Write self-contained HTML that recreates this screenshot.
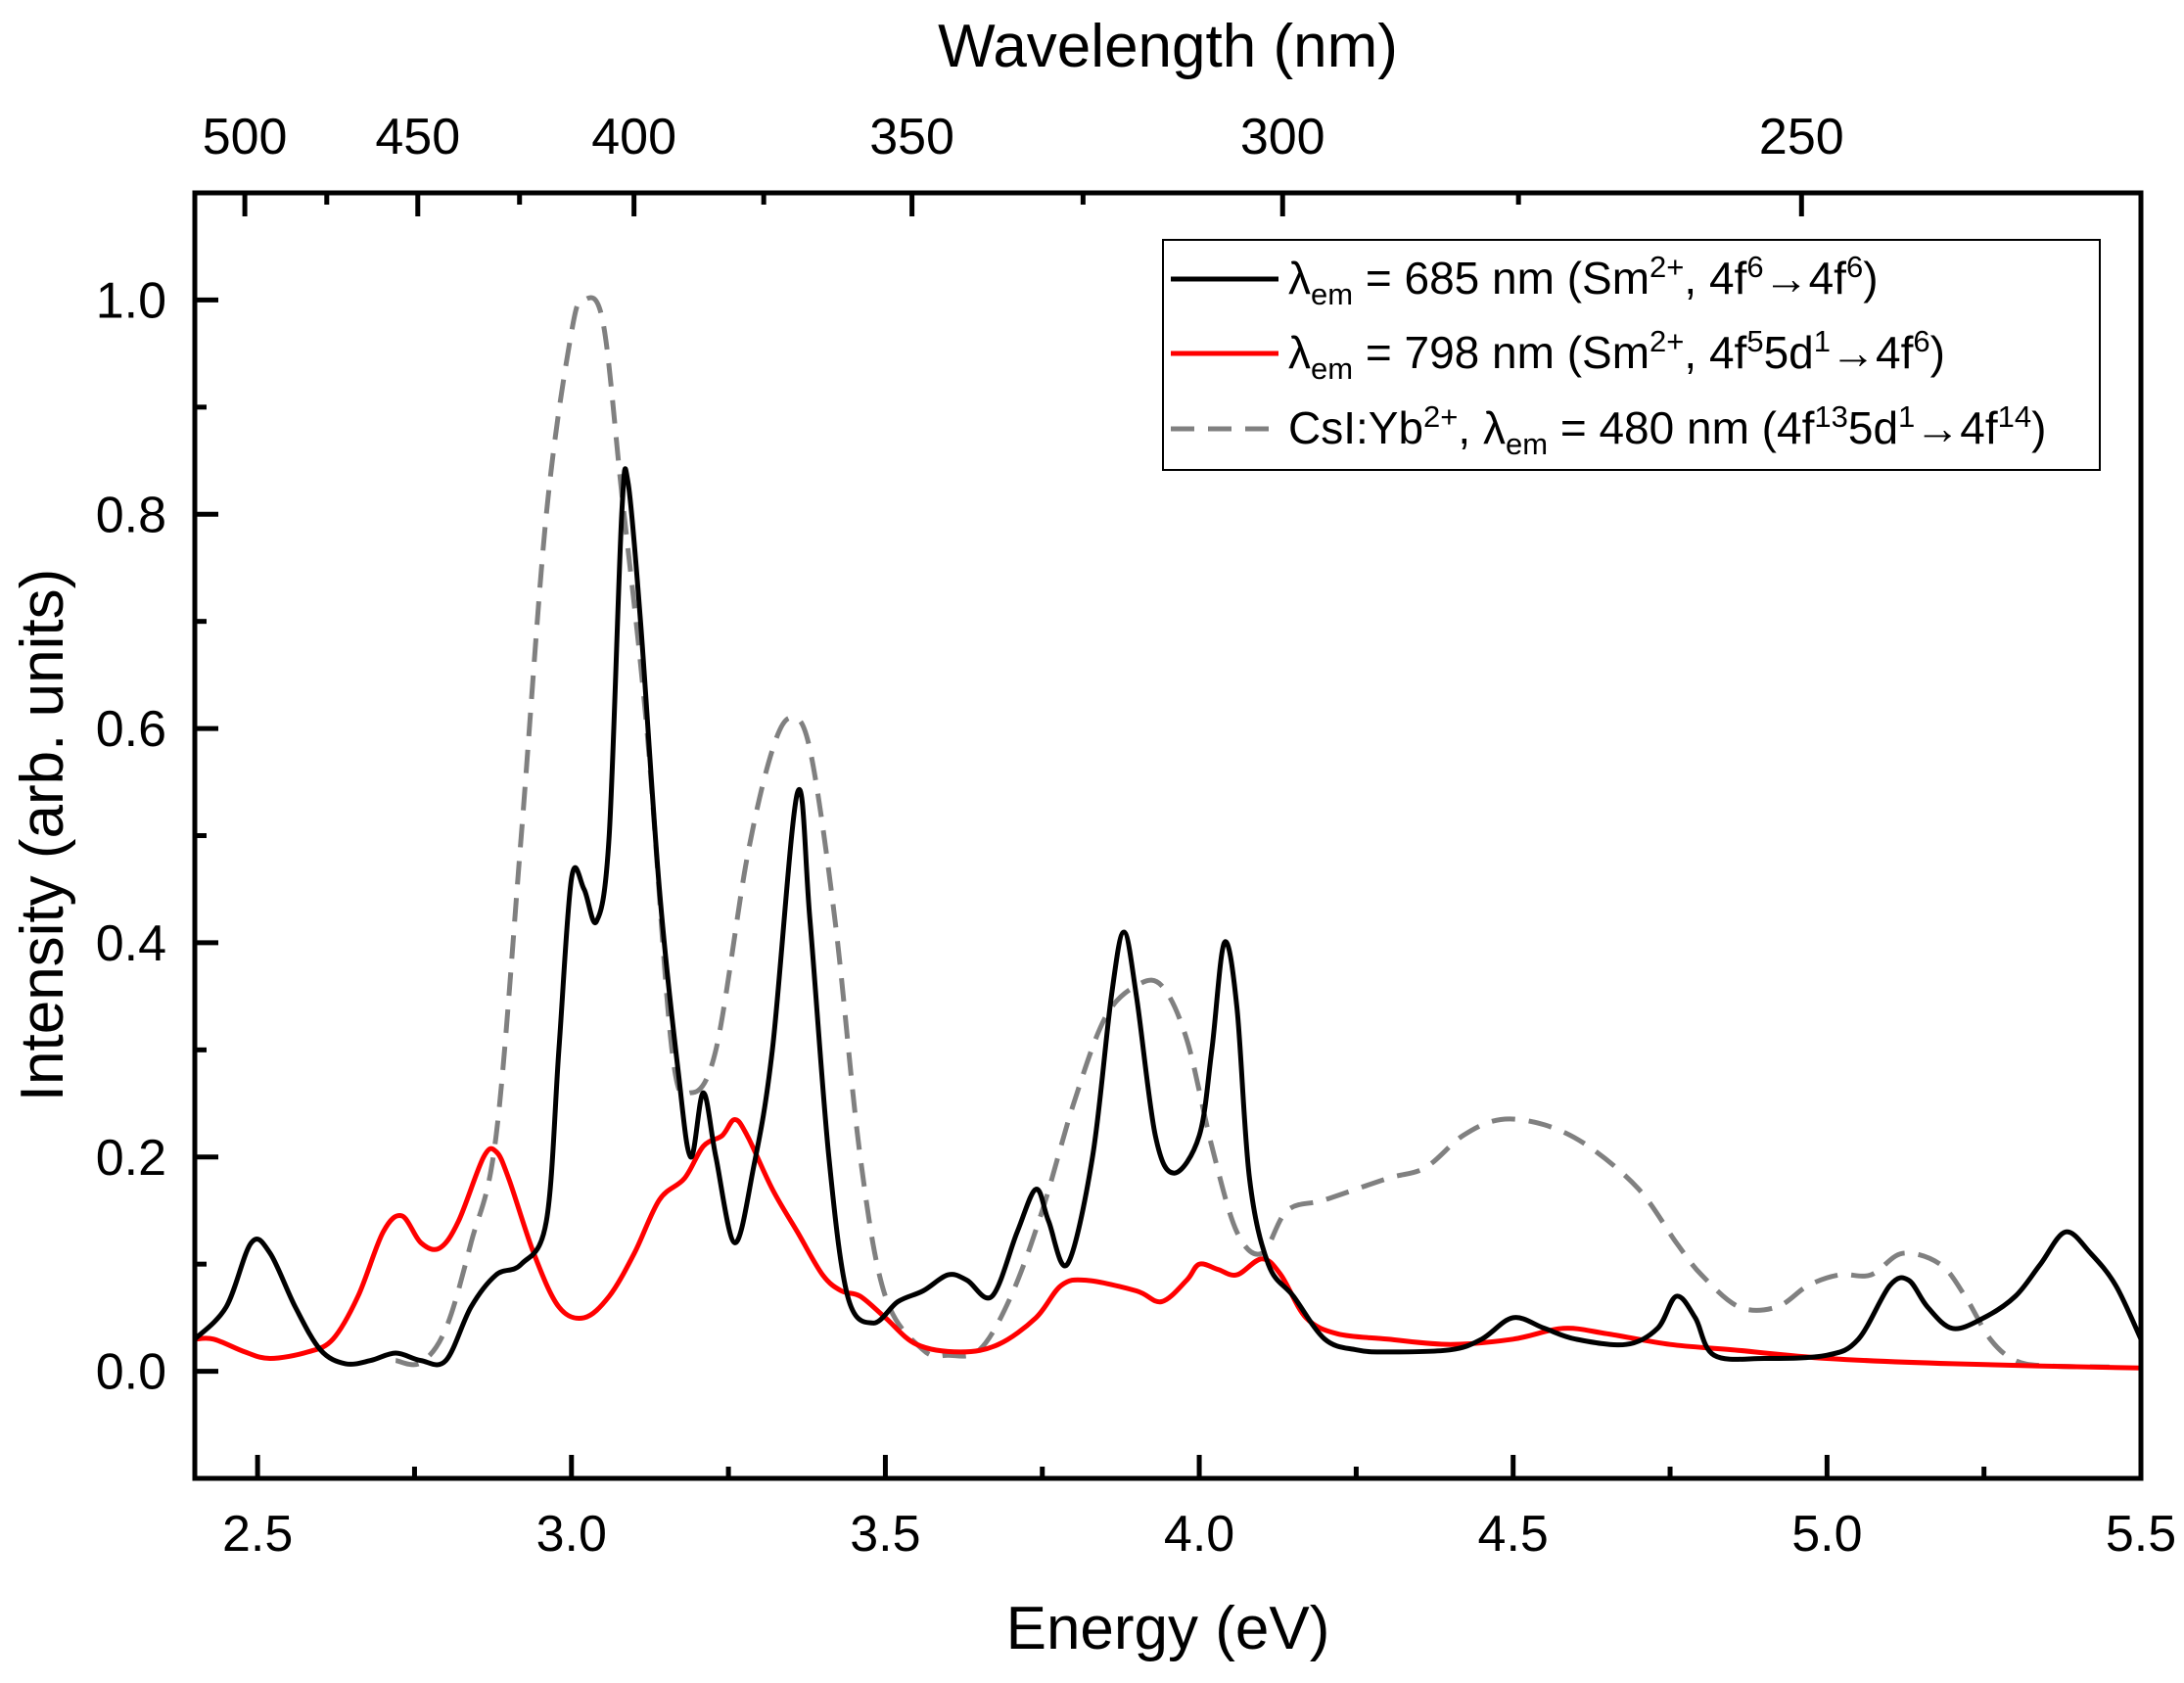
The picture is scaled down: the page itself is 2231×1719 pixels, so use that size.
<!DOCTYPE html>
<html><head><meta charset="utf-8"><style>
html,body{margin:0;padding:0;background:#fff;}
svg{display:block;font-family:"Liberation Sans",Arial,sans-serif;}
</style></head><body>
<svg id="chart" width="2231" height="1719" viewBox="0 0 2231 1719" xmlns="http://www.w3.org/2000/svg">
<g id="series"></g>
<g id="axes"></g>
<text x="1193" y="1684" font-size="62" text-anchor="middle">Energy (eV)</text>
<text x="1193" y="68" font-size="62" text-anchor="middle">Wavelength (nm)</text>
<text transform="translate(64,853) rotate(-90)" font-size="62" text-anchor="middle">Intensity (arb. units)</text>
<g>
<rect x="1188" y="245" width="957" height="235" fill="#fff" stroke="#000" stroke-width="2"/>
<line x1="1196" y1="285" x2="1306" y2="285" stroke="#000" stroke-width="5"/>
<text x="1316" y="300" font-size="46">λ<tspan font-size="31" dy="11">em</tspan><tspan dy="-11"> = 685 nm (Sm</tspan><tspan font-size="31" dy="-17">2+</tspan><tspan dy="17">, 4f</tspan><tspan font-size="31" dy="-17">6</tspan><tspan dy="17">→4f</tspan><tspan font-size="31" dy="-17">6</tspan><tspan dy="17">)</tspan></text>
<line x1="1196" y1="361" x2="1306" y2="361" stroke="#f00" stroke-width="5"/>
<text x="1316" y="376" font-size="46">λ<tspan font-size="31" dy="11">em</tspan><tspan dy="-11"> = 798 nm (Sm</tspan><tspan font-size="31" dy="-17">2+</tspan><tspan dy="17">, 4f</tspan><tspan font-size="31" dy="-17">5</tspan><tspan dy="17">5d</tspan><tspan font-size="31" dy="-17">1</tspan><tspan dy="17">→4f</tspan><tspan font-size="31" dy="-17">6</tspan><tspan dy="17">)</tspan></text>
<line x1="1196" y1="438" x2="1306" y2="438" stroke="#808080" stroke-width="5" stroke-dasharray="24,14"/>
<text x="1316" y="453" font-size="46">CsI:Yb<tspan font-size="31" dy="-17">2+</tspan><tspan dy="17">, λ</tspan><tspan font-size="31" dy="11">em</tspan><tspan dy="-11"> = 480 nm (4f</tspan><tspan font-size="31" dy="-17">13</tspan><tspan dy="17">5d</tspan><tspan font-size="31" dy="-17">1</tspan><tspan dy="17">→4f</tspan><tspan font-size="31" dy="-17">14</tspan><tspan dy="17">)</tspan></text>
</g>
</svg>
<script>
const blackE=[2.4,2.45,2.49,2.52,2.56,2.6,2.64,2.68,2.72,2.76,2.8,2.84,2.88,2.92,2.96,2.98,3.0,3.02,3.04,3.06,3.08,3.09,3.11,3.14,3.17,3.19,3.21,3.23,3.26,3.29,3.32,3.36,3.38,3.41,3.44,3.48,3.52,3.56,3.6,3.63,3.67,3.71,3.74,3.76,3.79,3.83,3.86,3.88,3.9,3.93,3.96,4.0,4.02,4.04,4.06,4.08,4.11,4.15,4.2,4.25,4.3,4.4,4.45,4.5,4.55,4.6,4.68,4.73,4.76,4.79,4.82,4.9,5.0,5.05,5.1,5.13,5.16,5.2,5.25,5.3,5.34,5.38,5.42,5.46,5.5];
const blackI=[0.03,0.06,0.12,0.11,0.06,0.02,0.007,0.01,0.017,0.01,0.01,0.06,0.09,0.1,0.14,0.3,0.46,0.45,0.42,0.5,0.8,0.83,0.7,0.45,0.28,0.2,0.26,0.2,0.12,0.19,0.3,0.54,0.42,0.2,0.07,0.045,0.065,0.075,0.09,0.085,0.07,0.13,0.17,0.14,0.1,0.2,0.35,0.41,0.35,0.22,0.185,0.22,0.3,0.4,0.34,0.18,0.1,0.07,0.03,0.02,0.018,0.02,0.03,0.05,0.04,0.03,0.025,0.04,0.07,0.05,0.015,0.012,0.015,0.03,0.08,0.085,0.06,0.04,0.05,0.07,0.1,0.13,0.11,0.08,0.03];
const redE=[2.4,2.43,2.48,2.52,2.58,2.62,2.66,2.7,2.73,2.76,2.79,2.82,2.86,2.88,2.9,2.94,2.98,3.02,3.06,3.1,3.14,3.18,3.21,3.24,3.26,3.28,3.32,3.36,3.4,3.43,3.46,3.5,3.55,3.62,3.68,3.74,3.78,3.82,3.9,3.94,3.98,4.0,4.03,4.06,4.1,4.13,4.17,4.22,4.3,4.4,4.5,4.58,4.65,4.75,4.85,5.0,5.2,5.5];
const redI=[0.03,0.03,0.018,0.012,0.018,0.03,0.07,0.13,0.145,0.12,0.115,0.14,0.2,0.205,0.18,0.11,0.06,0.05,0.07,0.11,0.16,0.18,0.21,0.22,0.235,0.22,0.17,0.13,0.09,0.075,0.07,0.05,0.025,0.018,0.025,0.05,0.08,0.085,0.075,0.065,0.085,0.1,0.095,0.09,0.105,0.09,0.05,0.035,0.03,0.025,0.03,0.04,0.035,0.025,0.02,0.012,0.007,0.003];
const grayE=[2.72,2.76,2.8,2.84,2.88,2.92,2.96,3.0,3.02,3.05,3.08,3.12,3.16,3.19,3.23,3.28,3.32,3.35,3.38,3.42,3.46,3.5,3.56,3.6,3.65,3.7,3.75,3.8,3.85,3.9,3.94,3.98,4.02,4.06,4.1,4.14,4.2,4.3,4.36,4.42,4.48,4.55,4.62,4.7,4.76,4.8,4.86,4.92,4.97,5.02,5.07,5.12,5.18,5.22,5.26,5.3,5.35,5.45];
const grayI=[0.01,0.008,0.04,0.12,0.22,0.5,0.8,0.97,1.0,0.98,0.82,0.6,0.3,0.26,0.3,0.48,0.58,0.61,0.58,0.42,0.2,0.07,0.02,0.015,0.02,0.07,0.15,0.25,0.33,0.36,0.36,0.31,0.21,0.13,0.11,0.15,0.16,0.18,0.19,0.22,0.235,0.23,0.21,0.17,0.12,0.09,0.06,0.06,0.08,0.09,0.09,0.11,0.1,0.07,0.03,0.01,0.005,0.004];
const xTicks=[2.5,3.0,3.5,4.0,4.5,5.0,5.5];
const xTickLabels=["2.5","3.0","3.5","4.0","4.5","5.0","5.5"];
const yTicks=[0,0.2,0.4,0.6,0.8,1.0];
const yTickLabels=["0.0","0.2","0.4","0.6","0.8","1.0"];
const wlTicks=[500,450,400,350,300,250];
const wlTickLabels=["500","450","400","350","300","250"];

const L=199,R=2187,T=197,B=1510,X0=2.4,X1=5.5,Y0=-0.1,Y1=1.1;
const sx=v=>L+(v-X0)/(X1-X0)*(R-L);
const sy=v=>B-(v-Y0)/(Y1-Y0)*(B-T);
const NS="http://www.w3.org/2000/svg";
const ser=document.getElementById('series'),ax=document.getElementById('axes');
function mk(tag,attrs,parent){const e=document.createElementNS(NS,tag);for(const k in attrs)e.setAttribute(k,attrs[k]);parent.appendChild(e);return e;}
function line(E,I,color,dash,name){
  const P=E.map((e,i)=>[sx(e),sy(I[i])]);
  let d='M'+P[0][0].toFixed(1)+','+P[0][1].toFixed(1);
  for(let i=0;i<P.length-1;i++){
    const p0=P[i-1]||P[i],p1=P[i],p2=P[i+1],p3=P[i+2]||P[i+1];
    const c1=[p1[0]+(p2[0]-p0[0])/6,p1[1]+(p2[1]-p0[1])/6];
    const c2=[p2[0]-(p3[0]-p1[0])/6,p2[1]-(p3[1]-p1[1])/6];
    d+='C'+c1[0].toFixed(1)+','+c1[1].toFixed(1)+' '+c2[0].toFixed(1)+','+c2[1].toFixed(1)+' '+p2[0].toFixed(1)+','+p2[1].toFixed(1);
  }
  const p=mk('path',{d:d,fill:'none',stroke:color,'stroke-width':5,'stroke-linejoin':'round'},ser);
  if(dash)p.setAttribute('stroke-dasharray',dash);
  
  
}
line(grayE,grayI,'#808080','24,14','series-csi-yb');
line(redE,redI,'#f00',null,'series-798nm');
line(blackE,blackI,'#000',null,'series-685nm');
const fr=mk('rect',{x:L,y:T,width:R-L,height:B-T,fill:'none',stroke:'#000','stroke-width':5},ax);


xTicks.forEach((v,i)=>{
  const t=mk('line',{x1:sx(v),x2:sx(v),y1:B,y2:B-24,stroke:'#000','stroke-width':5},ax);
  
  
  const m=v-0.25; if(m>X0){const mt=mk('line',{x1:sx(m),x2:sx(m),y1:B,y2:B-12,stroke:'#000','stroke-width':5},ax);
  
  }
  const lb=mk('text',{x:sx(v),y:1584,'font-size':52,'text-anchor':'middle'},ax);lb.textContent=xTickLabels[i];
  
  
});
yTicks.forEach((v,i)=>{
  const t=mk('line',{x1:L,x2:L+24,y1:sy(v),y2:sy(v),stroke:'#000','stroke-width':5},ax);
  
  
  [v-0.1,v+0.1].forEach(m=>{if(m>Y0&&m<Y1&&(i===0||m>v)){const mt=mk('line',{x1:L,x2:L+12,y1:sy(m),y2:sy(m),stroke:'#000','stroke-width':5},ax);
  
  }});
  const lb=mk('text',{x:170,y:sy(v)+18,'font-size':52,'text-anchor':'end'},ax);lb.textContent=yTickLabels[i];
  
  
});
wlTicks.forEach((w,i)=>{
  const x=sx(1239.84/w);
  const t=mk('line',{x1:x,x2:x,y1:T,y2:T+24,stroke:'#000','stroke-width':5},ax);
  
  
  const mw=w-25;const mx=sx(1239.84/mw);
  if(mx<R){const mt=mk('line',{x1:mx,x2:mx,y1:T,y2:T+12,stroke:'#000','stroke-width':5},ax);
  
  }
  const lb=mk('text',{x:x,y:157,'font-size':52,'text-anchor':'middle'},ax);lb.textContent=wlTickLabels[i];
  
  
});
</script>
</body></html>
